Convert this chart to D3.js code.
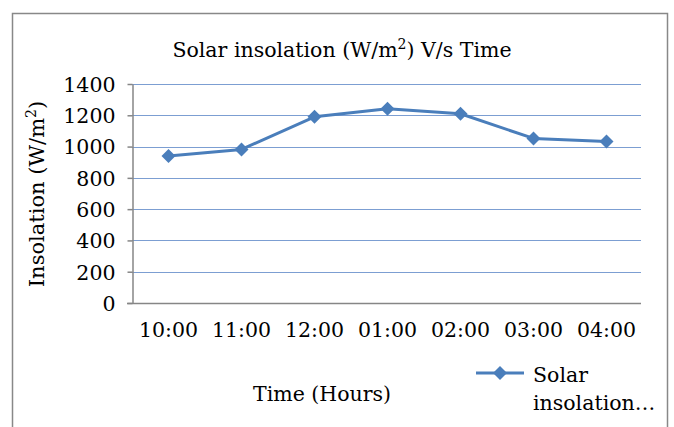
<!DOCTYPE html>
<html>
<head>
<meta charset="utf-8">
<script src="https://cdn.jsdelivr.net/npm/d3@7"></script>
<style>
  body { margin: 0; background: #fff; }
  svg { display: block; }
  text { font-family: "DejaVu Serif", serif; fill: #000; }
</style>
</head>
<body>
<svg id="chart"></svg>
<script>
// chart values
const hours = ['10:00', '11:00', '12:00', '01:00', '02:00', '03:00', '04:00'];
const insolation = [940, 982, 1190, 1242, 1210, 1052, 1032];
const yTicks = [0, 200, 400, 600, 800, 1000, 1200, 1400];

const width = 674;
const height = 427;
const plotLeft = 132, plotRight = 643, plotTop = 84, plotBottom = 303;
const lineColor = '#4A7EBB';

const svg = d3.select('#chart')
    .attr('width', width)
    .attr('height', height);

svg.append('rect')
    .attr('x', 12.5).attr('y', 13.5)
    .attr('width', 655).attr('height', 430)
    .attr('fill', '#fff')
    .attr('stroke', '#888')
    .attr('stroke-width', 1.5);

const x = d3.scaleBand().domain(hours).range([plotLeft, plotRight]);
const y = d3.scaleLinear().domain([0, 1400]).range([plotBottom, plotTop]);

// gridlines
svg.append('g').selectAll('line')
    .data(yTicks.filter(d => d > 0))
    .join('line')
    .attr('x1', plotLeft).attr('x2', plotRight - 2)
    .attr('y1', d => Math.round(y(d)) + 0.5)
    .attr('y2', d => Math.round(y(d)) + 0.5)
    .attr('stroke', '#7C9ED2')
    .attr('stroke-width', 1.2);

// y axis
const yAxis = svg.append('g')
    .attr('transform', `translate(${plotLeft + 0.5},0)`)
    .call(d3.axisLeft(y).tickValues(yTicks).tickFormat(d3.format('d'))
        .tickSize(5).tickSizeOuter(0).tickPadding(12));
yAxis.select('.domain').attr('stroke', '#868686').attr('stroke-width', 1.5);
yAxis.selectAll('.tick line').attr('stroke', '#868686').attr('stroke-width', 1.5);
yAxis.selectAll('.tick text').attr('font-size', 20.5).attr('font-family', '"DejaVu Serif", serif').attr('dy', '0.36em');

// x axis
const xAxis = svg.append('g')
    .attr('transform', `translate(0,${plotBottom + 0.5})`)
    .call(d3.axisBottom(x).tickSize(0).tickSizeOuter(0).tickPadding(19));
xAxis.select('.domain').attr('stroke', '#868686').attr('stroke-width', 1.5)
    .attr('d', `M${plotLeft - 5},0H${plotRight - 2}`);
xAxis.selectAll('.tick text').attr('font-size', 20.5).attr('font-family', '"DejaVu Serif", serif');

// line
const line = d3.line()
    .x((d, i) => x(hours[i]) + x.bandwidth() / 2)
    .y(d => y(d));

svg.append('path')
    .datum(insolation)
    .attr('d', line)
    .attr('fill', 'none')
    .attr('stroke', lineColor)
    .attr('stroke-width', 3)
    .attr('stroke-linejoin', 'round');

const diamond = 'M0,-7L7,0L0,7L-7,0Z';
svg.append('g').selectAll('path')
    .data(insolation)
    .join('path')
    .attr('transform', (d, i) => `translate(${x(hours[i]) + x.bandwidth() / 2},${y(d)})`)
    .attr('d', diamond)
    .attr('fill', lineColor);

// title
const title = svg.append('text')
    .attr('x', 342).attr('y', 57)
    .attr('text-anchor', 'middle')
    .attr('font-size', 20.5);
title.append('tspan').text('Solar insolation (W/m');
title.append('tspan').attr('font-size', 14).attr('dy', -8).text('2');
title.append('tspan').attr('dy', 8).text(') V/s Time');

// y axis title
const yTitle = svg.append('text')
    .attr('transform', 'translate(44,194) rotate(-90)')
    .attr('text-anchor', 'middle')
    .attr('font-size', 21);
yTitle.append('tspan').text('Insolation (W/m');
yTitle.append('tspan').attr('font-size', 14).attr('dy', -8).text('2');
yTitle.append('tspan').attr('dy', 8).text(')');

// x axis title
svg.append('text')
    .attr('x', 322).attr('y', 401)
    .attr('text-anchor', 'middle')
    .attr('font-size', 20.5)
    .text('Time (Hours)');

// legend
const legend = svg.append('g').attr('transform', 'translate(476,373)');
legend.append('line')
    .attr('x1', 0).attr('x2', 48)
    .attr('stroke', lineColor).attr('stroke-width', 3);
legend.append('path').attr('transform', 'translate(24,0)').attr('d', diamond).attr('fill', lineColor);
legend.append('text').attr('x', 57).attr('y', 9).attr('font-size', 20.5).text('Solar');
legend.append('text').attr('x', 57).attr('y', 37).attr('font-size', 20.5).text('insolation…');
</script>
</body>
</html>
